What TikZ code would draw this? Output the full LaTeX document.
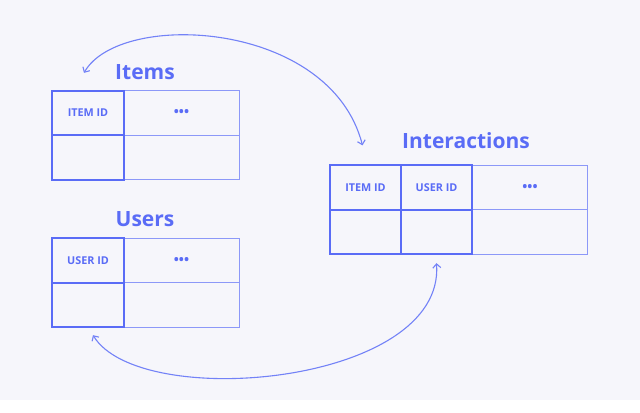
\documentclass[tikz,border=0pt]{standalone}
\usepackage{fontspec}
\setmainfont{Open Sans}
\usetikzlibrary{arrows.meta}
\definecolor{bg}{HTML}{F6F6FB}
\definecolor{ink}{HTML}{5A6CF6}
\definecolor{soft}{HTML}{8C98F8}
\newcommand{\dotsmore}{\raisebox{-2.5pt}{•••}}

\begin{document}
\begin{tikzpicture}[x=1pt,y=-1pt,
    >={Straight Barb[length=4pt,width=8pt]},
    cell/.style={draw=soft,line width=1pt,inner sep=0pt,minimum height=44.5pt,
      text=ink,font=\fontsize{10.8}{12}\selectfont\bfseries},
    key/.style={cell,draw=ink,line width=1.8pt,minimum width=71.5pt},
    more/.style={cell,minimum width=115.5pt,font=\fontsize{13.5}{14}\selectfont\bfseries},
    title/.style={text=ink,font=\fontsize{21}{24}\selectfont\bfseries}]
  \fill[bg](0,0)rectangle(640,400);
  % items
  \node[title](items) at (145,72){Items};
  \node[more](im1) at (181.5,113){\dotsmore};
  \node[more](im2) at (181.5,157.5){};
  \node[key](ik1) at (88,113){ITEM ID};
  \node[key](ik2) at (88,157.5){};
  % users
  \node[title](users) at (145,219){Users};
  \node[more](um1) at (181.5,260.5){\dotsmore};
  \node[more](um2) at (181.5,305){};
  \node[key](uk1) at (88,260.5){USER ID};
  \node[key](uk2) at (88,305){};
  % interactions
  \node[title](inter) at (466,141){Interactions};
  \node[more](xm1) at (530,187.5){\dotsmore};
  \node[more](xm2) at (530,232){};
  \node[key](xi1) at (365.5,187.5){ITEM ID};
  \node[key](xi2) at (365.5,232){};
  \node[key](xu1) at (436.5,187.5){USER ID};
  \node[key](xu2) at (436.5,232){};
  % links
  \draw[<->,ink!85,line width=1.1pt]([xshift=-4pt,yshift=17pt]ik1.north)
    .. controls (120,10) and (330,20) .. ([xshift=-3pt,yshift=19pt]xi1.north);
  \draw[<->,ink!85,line width=1.1pt]([xshift=5pt,yshift=-7pt]uk2.south)
    .. controls (140,412) and (445,385) .. ([yshift=-8pt]xu2.south);
\end{tikzpicture}
\end{document}
